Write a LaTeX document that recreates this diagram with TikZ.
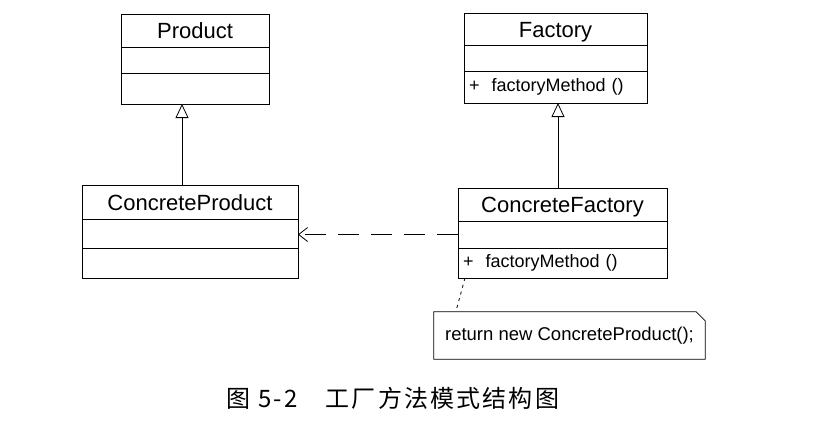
\documentclass[tikz,border=0pt]{standalone}
\usepackage{fontspec}
\setmainfont{Liberation Sans}
\newfontfamily\cjk[LetterSpace=9]{Noto Sans CJK SC}
\usetikzlibrary{arrows.meta,positioning}

\tikzset{
	cls/.style={draw, line width=0.8pt, inner sep=0pt, outer sep=0pt},
	ctitle/.style={cls, font=\fontsize{22}{26}\selectfont, text height=16pt, text depth=0pt},
	cmeth/.style={cls, font=\fontsize{18}{21}\selectfont, align=left, inner xsep=5pt},
	inherit/.style={line width=0.8pt, -{Triangle[open, width=13pt, length=14pt]}},
	depend/.style={line width=0.8pt, dash pattern=on 21pt off 12pt, -{Straight Barb[length=9pt, width=14pt]}},
	anchorline/.style={line width=0.8pt, dash pattern=on 3pt off 4pt}
}

\begin{document}
\begin{tikzpicture}[x=1pt, y=-1pt]
	\useasboundingbox (0,0) rectangle (829,439);
	% Product
	\node[ctitle, minimum width=148pt, minimum height=33pt] (pt) at (195,30.5) {Product};
	\node[cls, minimum width=148pt, minimum height=26pt, below=0pt of pt] (pa) {};
	\node[cls, minimum width=148pt, minimum height=31pt, below=0pt of pa] (pm) {};
	% Factory
	\node[ctitle, minimum width=183pt, minimum height=32pt] (ft) at (555.5,29) {Factory};
	\node[cls, minimum width=183pt, minimum height=26pt, below=0pt of ft] (fa) {};
	\node[cmeth, text width=173pt, minimum height=32pt, below=0pt of fa] (fm) {+\ \ factoryMethod ()};
	% ConcreteProduct
	\node[ctitle, minimum width=216pt, minimum height=34pt] (cpt) at (190,202) {ConcreteProduct};
	\node[cls, minimum width=216pt, minimum height=29pt, below=0pt of cpt] (cpa) {};
	\node[cls, minimum width=216pt, minimum height=30pt, below=0pt of cpa] (cpm) {};
	% ConcreteFactory
	\node[ctitle, minimum width=209pt, minimum height=33pt] (cft) at (562.5,204.5) {ConcreteFactory};
	\node[cls, minimum width=209pt, minimum height=27pt, below=0pt of cft] (cfa) {};
	\node[cmeth, text width=199pt, minimum height=30pt, below=0pt of cfa] (cfm) {+\ \ factoryMethod ()};
	% note
	\node[font=\fontsize{18.5}{22}\selectfont, minimum width=271pt, minimum height=47pt] (note) at (569.5,335.5) {return new ConcreteProduct();};
	\draw[line width=0.8pt] (note.north west) -- ([xshift=-9pt]note.north east) -- ([yshift=-9pt]note.north east) -- (note.south east) -- (note.south west) -- cycle;

	% generalizations
	\coordinate (g1) at ([xshift=-8pt]cpt.north);
	\draw[inherit] (g1) -- (g1 |- pm.south);
	\coordinate (g2) at ([xshift=-4.5pt]cft.north);
	\draw[inherit] (g2) -- (g2 |- fm.south);
	% dependency
	\draw[depend] (cfa.west) -- (cfa.west -| cpa.east);
	% note link
	\draw[anchorline] ([xshift=7pt]cfm.south west) -- ([xshift=22pt]note.north west);

	\node[font=\cjk\fontsize{24}{28}\selectfont] (cap) at (393,398) {图 5-2\hspace{28pt}工厂方法模式结构图};
\end{tikzpicture}
\end{document}
